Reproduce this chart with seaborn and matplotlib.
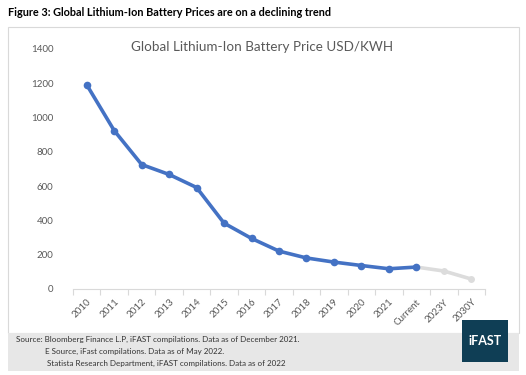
import numpy as np
import pandas as pd
import matplotlib
matplotlib.use('Agg')
import matplotlib.pyplot as plt
import seaborn as sns
from matplotlib.patches import Rectangle

# data
categories = ['2010', '2011', '2012', '2013', '2014', '2015', '2016', '2017',
              '2018', '2019', '2020', '2021', 'Current', '2023Y', '2030Y']
prices = [1191, 924, 726, 668, 592, 384, 295, 221, 181, 157, 137, 118, 128, 105, 58]
n_actual = 13  # blue segment runs up to "Current", grey afterwards

sns.set_theme(style='white')
plt.rcParams['font.family'] = ['Lato', 'DejaVu Sans']

df = pd.DataFrame({'period': categories, 'price': prices})
df['x'] = np.arange(len(df))
actual = df.iloc[:n_actual]
outlook = df.iloc[n_actual - 1:]

fig = plt.figure(figsize=(5.26, 3.75), dpi=100)

# chart frame and footer band (figure coordinates)
W, H = 526, 375
fig.patches.append(Rectangle((8 / W, 1 - 333 / H), 511 / W, 306 / H, transform=fig.transFigure,
                             facecolor='white', edgecolor='#D9D9D9', lw=0.8, zorder=0))
fig.patches.append(Rectangle((8 / W, 1 - 371 / H), 511 / W, 38 / H, transform=fig.transFigure,
                             facecolor='#E7E7E7', edgecolor='none', zorder=1))
fig.patches.append(Rectangle((462 / W, 1 - 362 / H), 46 / W, 42 / H, transform=fig.transFigure,
                             facecolor='#0F3E55', edgecolor='none', zorder=2))
fig.text(485 / W, 1 - 341 / H, 'iFAST', color='white', fontsize=9, fontweight='bold',
         ha='center', va='center', zorder=3)

fig.text(8 / W, 1 - 12 / H, 'Figure 3: Global Lithium-Ion Battery Prices are on a declining trend',
         fontsize=7.85, fontweight='bold', ha='left', va='center', color='black')

fig.text(16 / W, 1 - 339 / H, 'Source: Bloomberg Finance L.P, iFAST compilations. Data as of December 2021.',
         fontsize=5.75, color='#333333', ha='left', va='center', zorder=3)
fig.text(45 / W, 1 - 351 / H, 'E Source, iFast compilations. Data as of May 2022.',
         fontsize=5.75, color='#333333', ha='left', va='center', zorder=3)
fig.text(47 / W, 1 - 363 / H, 'Statista Research Department, iFAST compilations. Data as of 2022',
         fontsize=5.75, color='#333333', ha='left', va='center', zorder=3)

ax = fig.add_axes([73 / W, 1 - 289 / H, 412 / W, 240 / H])
ax.set_zorder(5)
ax.patch.set_alpha(0)

sns.lineplot(data=outlook, x='x', y='price', ax=ax, color='#DCDCDC', lw=2.6,
             marker='o', markersize=5, markeredgewidth=0)
sns.lineplot(data=actual, x='x', y='price', ax=ax, color='#4472C4', lw=2.6,
             marker='o', markersize=5.5, markeredgewidth=0)

ax.set_xlim(-0.5, len(categories) - 0.5)
ax.set_ylim(0, 1400)
ax.set_yticks(range(0, 1401, 200))
ax.set_yticklabels([str(v) for v in range(0, 1401, 200)], fontsize=7, color='#595959')
ax.set_xticks(df['x'])
ax.set_xticklabels(categories, rotation=45, ha='right', rotation_mode='anchor',
                   fontsize=7, color='#595959')
ax.set_xticks(np.arange(-0.5, len(categories), 1), minor=True)
ax.tick_params(axis='x', which='major', length=0, pad=6)
ax.tick_params(axis='x', which='minor', length=4, color='#D9D9D9', width=0.8, bottom=True)
ax.tick_params(axis='y', length=0, pad=14)
ax.set_xlabel('')
ax.set_ylabel('')
for side in ['top', 'right', 'left']:
    ax.spines[side].set_visible(False)
ax.spines['bottom'].set_color('#D9D9D9')
ax.spines['bottom'].set_linewidth(0.8)

fig.text(262 / W, 1 - 47 / H, 'Global Lithium-Ion Battery Price USD/KWH',
         fontsize=9.7, color='#595959', ha='center', va='center')

fig.savefig('out.png', dpi=100)
